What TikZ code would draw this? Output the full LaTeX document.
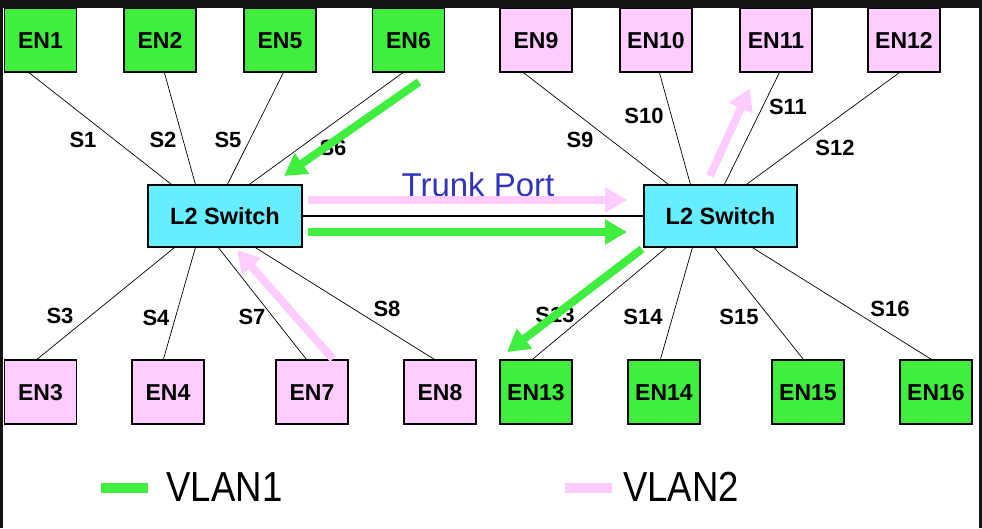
\documentclass[tikz,border=0pt]{standalone}
\usepackage{fontspec}
\setmainfont{Liberation Sans}
\usetikzlibrary{arrows.meta,calc}
\definecolor{vgreen}{RGB}{64,238,64}
\definecolor{vpink}{RGB}{255,204,255}
\definecolor{swcyan}{RGB}{102,238,255}
\definecolor{trunkblue}{RGB}{51,51,187}
\begin{document}
\begin{tikzpicture}[x=1pt,y=-1pt,
  en/.style={draw=black,line width=1.2pt,minimum width=72pt,minimum height=64pt,inner sep=0pt,
    text height=16.5pt,text depth=0pt,font=\fontsize{23}{25}\selectfont\bfseries},
  engreen/.style={en,fill=vgreen},
  enpink/.style={en,fill=vpink},
  switchbox/.style={draw=black,line width=1.2pt,fill=swcyan,minimum width=154pt,minimum height=62pt,
    inner sep=0pt,text height=17pt,text depth=0pt,font=\fontsize{23.5}{25}\selectfont\bfseries},
  link/.style={line width=0.7pt,draw=black},
  slabel/.style={inner sep=0pt,text height=15.8pt,text depth=0pt,font=\fontsize{22}{24}\selectfont\bfseries},
  flowgreen/.style={line width=8pt,draw=vgreen,-{Triangle[length=22pt,width=24pt]}},
  flowpink/.style={line width=8pt,draw=vpink,-{Triangle[length=22pt,width=24pt]}},
  legendtext/.style={inner sep=0pt,text height=30pt,text depth=0pt,font=\fontsize{42}{44}\selectfont}
]
\useasboundingbox (0,0) rectangle (982,528);
\fill[white] (0,0) rectangle (982,528);

% switches
\node[switchbox] (sw1) at (225,216) {L2 Switch};
\node[switchbox,minimum width=153pt] (sw2) at (720.5,216) {L2 Switch};

% end nodes top
\node[engreen] (en1) at (40.5,40) {EN1};
\node[engreen] (en2) at (160,40) {EN2};
\node[engreen] (en5) at (280,40) {EN5};
\node[engreen] (en6) at (408.5,40) {EN6};
\node[enpink] (en9) at (536,40) {EN9};
\node[enpink] (en10) at (656,40) {EN10};
\node[enpink] (en11) at (776,40) {EN11};
\node[enpink] (en12) at (904,40) {EN12};
% end nodes bottom
\node[enpink] (en3) at (40.5,392) {EN3};
\node[enpink] (en4) at (168,392) {EN4};
\node[enpink] (en7) at (312,392) {EN7};
\node[enpink] (en8) at (440,392) {EN8};
\node[engreen] (en13) at (536,392) {EN13};
\node[engreen] (en14) at (664,392) {EN14};
\node[engreen] (en15) at (808,392) {EN15};
\node[engreen] (en16) at (936,392) {EN16};

% links
\draw[link] ($(en1.south west)+(25,0)$) -- ($(sw1.north west)+(24,0)$);
\draw[link] ($(en2.south west)+(41,0)$) -- ($(sw1.north west)+(48,0)$);
\draw[link] ($(en5.south west)+(40,0)$) -- ($(sw1.north west)+(80,0)$);
\draw[link] ($(en6.south west)+(31,0)$) -- ($(sw1.north west)+(102,0)$);
\draw[link] ($(en3.north west)+(33,0)$) -- ($(sw1.south west)+(27,0)$);
\draw[link] ($(en4.north west)+(32,0)$) -- ($(sw1.south west)+(48,0)$);
\draw[link] ($(en7.north west)+(31,0)$) -- ($(sw1.south west)+(71,0)$);
\draw[link] ($(en8.north west)+(31,0)$) -- ($(sw1.south west)+(108,0)$);
\draw[link] ($(en9.south west)+(24,0)$) -- ($(sw2.north west)+(25,0)$);
\draw[link] ($(en10.south west)+(40,0)$) -- ($(sw2.north west)+(47,0)$);
\draw[link] ($(en11.south west)+(40,0)$) -- ($(sw2.north west)+(81,0)$);
\draw[link] ($(en12.south west)+(32,0)$) -- ($(sw2.north west)+(103,0)$);
\draw[link] ($(en13.north west)+(33,0)$) -- ($(sw2.south west)+(23,0)$);
\draw[link] ($(en14.north west)+(33,0)$) -- ($(sw2.south west)+(49,0)$);
\draw[link] ($(en15.north west)+(32,0)$) -- ($(sw2.south west)+(71,0)$);
\draw[link] ($(en16.north west)+(32,0)$) -- ($(sw2.south west)+(109,0)$);
\draw[line width=1.2pt] (sw1.east) -- (sw2.west);

% port labels
\node[slabel] (s1) at (83,140) {S1};
\node[slabel] (s2) at (163,140) {S2};
\node[slabel] (s5) at (228,140) {S5};
\node[slabel] (s6) at (333,148) {S6};
\node[slabel] (s9) at (580,140) {S9};
\node[slabel] (s10) at (644,116) {S10};
\node[slabel] (s11) at (788,107) {S11};
\node[slabel] (s12) at (835,148) {S12};
\node[slabel] (s3) at (60,316) {S3};
\node[slabel] (s4) at (156,318) {S4};
\node[slabel] (s7) at (252,317) {S7};
\node[slabel] (s8) at (387,309) {S8};
\node[slabel] (s13) at (555,315) {S13};
\node[slabel] (s14) at (643,317) {S14};
\node[slabel] (s15) at (739,317) {S15};
\node[slabel] (s16) at (890,309) {S16};

\node[inner sep=0pt,text height=23.6pt,text depth=0pt,text=trunkblue,font=\fontsize{33}{35}\selectfont] (trunk) at (478,184.5) {Trunk Port};

% traffic arrows
\coordinate (pt1s) at (308,200); \coordinate (pt1e) at (627,200);
\coordinate (gt1s) at (308,232); \coordinate (gt1e) at (627,232);
\draw[flowpink] (pt1s) -- (pt1e);
\draw[flowgreen] (gt1s) -- (gt1e);
\coordinate (g6s) at (419,82); \coordinate (g6e) at (284,176);
\draw[flowgreen] (g6s) -- (g6e);
\coordinate (p7s) at (333,359); \coordinate (p7e) at (237,250);
\draw[flowpink] (p7s) -- (p7e);
\coordinate (p11s) at (710,176); \coordinate (p11e) at (750,88);
\draw[flowpink] (p11s) -- (p11e);
\coordinate (g13s) at (642,249); \coordinate (g13e) at (507,352);
\draw[flowgreen] (g13s) -- (g13e);

% legend
\coordinate (lg1a) at (101,488); \coordinate (lg1b) at (148,488);
\draw[vgreen,line width=10pt] (lg1a) -- (lg1b);
\node[legendtext] (vlan1) at (224.5,486) {\scalebox{0.87}[1]{VLAN1}};
\coordinate (lg2a) at (565,488); \coordinate (lg2b) at (612,488);
\draw[vpink,line width=10pt] (lg2a) -- (lg2b);
\node[legendtext] (vlan2) at (681,486) {\scalebox{0.87}[1]{VLAN2}};

% frame
\fill[black!92] (0,0) rectangle (982,7.5);
\fill[black!92] (0,0) rectangle (2.5,528);
\fill[black!92] (979,0) rectangle (982,528);
\end{tikzpicture}
\end{document}
